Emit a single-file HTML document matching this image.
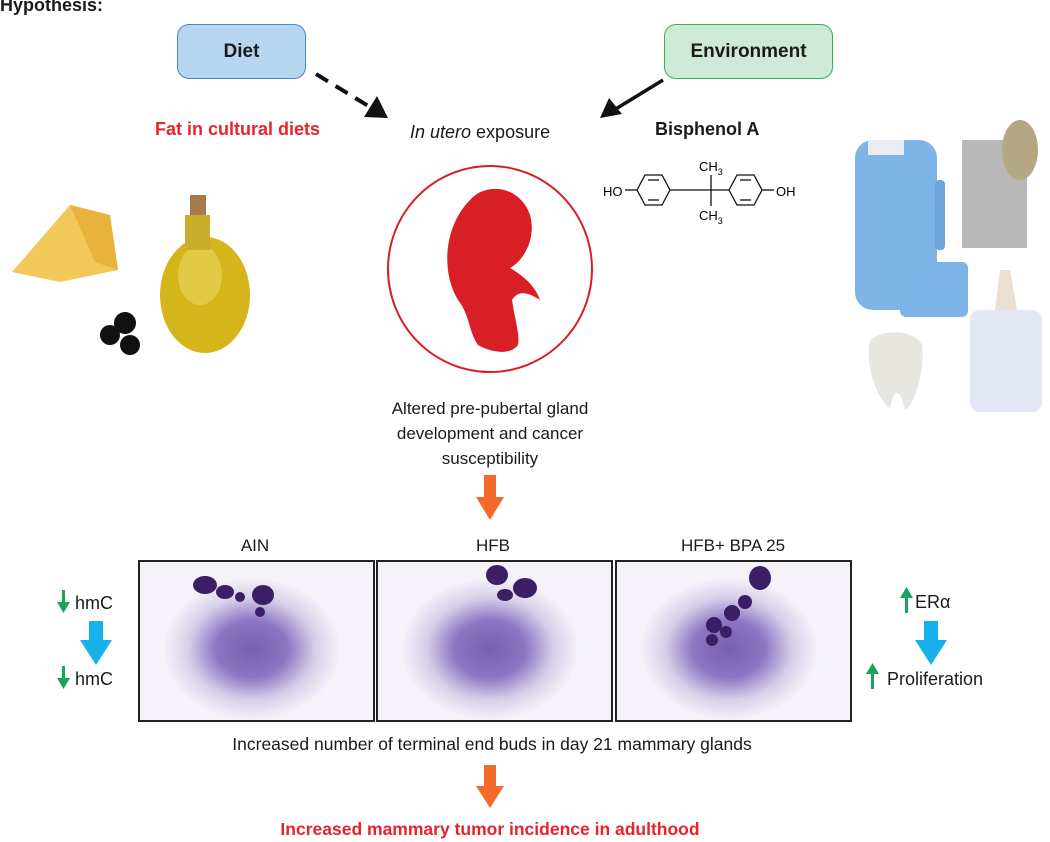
<!DOCTYPE html>
<html><head><meta charset="utf-8"><style>
body{margin:0;width:1050px;height:842px;background:#fff;position:relative;overflow:hidden;font-family:"Liberation Sans",Arial,sans-serif;color:#1a1a1a}
.t{position:absolute;white-space:nowrap}
.c{transform:translateX(-50%);text-align:center}
.box{position:absolute;border-radius:12px;display:flex;align-items:center;justify-content:center;font-weight:bold;font-size:19px}
.panel{position:absolute;top:560px;width:233px;height:158px;border:2px solid #222;background:
radial-gradient(ellipse 38% 45% at 48% 55%,#7660b2 0%,#8b76c2 40%,rgba(190,178,220,.55) 72%,rgba(245,242,250,0) 100%),#f5f2f9}
</style></head><body>
<div class="t" style="left:0;top:-5px;font-weight:bold;font-size:18px">Hypothesis:</div>
<div class="box" style="left:177px;top:24px;width:127px;height:53px;background:#b8d5f0;border:1.5px solid #4a86c8">Diet</div>
<div class="box" style="left:664px;top:24px;width:167px;height:53px;background:#cfe9d8;border:1.5px solid #2db35a">Environment</div>
<div class="panel" style="left:138px"></div>
<div class="panel" style="left:376px"></div>
<div class="panel" style="left:615px"></div>
<svg width="1050" height="842" style="position:absolute;left:0;top:0">
<line x1="316" y1="74" x2="370" y2="107" stroke="#111" stroke-width="4" stroke-dasharray="14,9"/>
<polygon points="388,118 364,117 377,96" fill="#111"/>
<line x1="663" y1="80" x2="614" y2="110" stroke="#111" stroke-width="3.5"/>
<polygon points="600,118 609,98 622,114" fill="#111"/>
<g stroke="#111" stroke-width="1.3" fill="none">
<polygon points="645,175 662,175 670,190 662,205 645,205 637,190"/>
<polygon points="737,175 754,175 762,190 754,205 737,205 729,190"/>
<line x1="648" y1="180" x2="659" y2="180"/><line x1="648" y1="200" x2="659" y2="200"/>
<line x1="740" y1="180" x2="751" y2="180"/><line x1="740" y1="200" x2="751" y2="200"/>
<line x1="625" y1="190" x2="637" y2="190"/><line x1="670" y1="190" x2="729" y2="190"/>
<line x1="711" y1="175" x2="711" y2="206"/><line x1="762" y1="190" x2="774" y2="190"/>
</g>
<text x="603" y="196" font-size="13" font-family="Liberation Sans">HO</text>
<text x="776" y="196" font-size="13" font-family="Liberation Sans">OH</text>
<text x="699" y="171" font-size="13" font-family="Liberation Sans">CH<tspan font-size="9" dy="4">3</tspan></text>
<text x="699" y="220" font-size="13" font-family="Liberation Sans">CH<tspan font-size="9" dy="4">3</tspan></text>
<ellipse cx="490" cy="269" rx="102" ry="103" fill="none" stroke="#d91f26" stroke-width="2"/>
<path d="M470,200 C485,182 520,185 530,215 C537,240 522,262 510,268 C522,275 535,285 540,300 C528,292 518,290 512,300 C515,320 520,335 518,345 C510,356 490,352 478,345 C468,330 470,315 458,300 C440,270 445,225 470,200 Z" fill="#d91f26"/>
<polygon points="12,272 70,205 110,215 118,270 60,282" fill="#f3c85a"/>
<polygon points="70,205 110,215 118,270 95,262" fill="#e9b23c"/>
<rect x="190" y="195" width="16" height="22" fill="#a57a4d"/>
<ellipse cx="205" cy="295" rx="45" ry="58" fill="#d4b51a"/>
<ellipse cx="200" cy="275" rx="22" ry="30" fill="#ecd860" opacity=".6"/>
<rect x="185" y="215" width="25" height="35" fill="#c8ae2a"/>
<circle cx="125" cy="323" r="11" fill="#111"/><circle cx="110" cy="335" r="10" fill="#111"/><circle cx="130" cy="345" r="10" fill="#111"/>
<rect x="855" y="140" width="82" height="170" rx="18" fill="#7fb5e6"/>
<rect x="868" y="140" width="36" height="15" fill="#e8eef3"/>
<rect x="935" y="180" width="10" height="70" rx="4" fill="#6ea5db"/>
<rect x="900" y="262" width="68" height="55" rx="6" fill="#7db3e6"/>
<rect x="962" y="140" width="65" height="108" fill="#b8b8b8"/>
<ellipse cx="1020" cy="150" rx="18" ry="30" fill="#b3a883"/>
<path d="M870,340 C885,328 915,330 922,345 C925,370 915,405 905,410 C900,390 895,385 890,408 C878,400 865,370 870,340Z" fill="#e8e6e0"/>
<rect x="970" y="310" width="72" height="102" rx="10" fill="#e3e6f3"/>
<path d="M995,310 L1000,270 L1010,270 L1017,310Z" fill="#eadfd0"/>
<!-- dark buds -->
<g fill="#3a1f66">
<ellipse cx="205" cy="585" rx="12" ry="9"/><ellipse cx="225" cy="592" rx="9" ry="7"/><ellipse cx="263" cy="595" rx="11" ry="10"/><circle cx="240" cy="597" r="5"/><circle cx="260" cy="612" r="5"/>
<ellipse cx="497" cy="575" rx="11" ry="10"/><ellipse cx="525" cy="588" rx="12" ry="10"/><ellipse cx="505" cy="595" rx="8" ry="6"/>
<ellipse cx="760" cy="578" rx="11" ry="12"/><circle cx="745" cy="602" r="7"/><circle cx="732" cy="613" r="8"/><circle cx="714" cy="625" r="8"/><circle cx="726" cy="632" r="6"/><circle cx="712" cy="640" r="6"/>
</g>
<polygon points="484,475 496,475 496,497 504,497 490,520 476,497 484,497" fill="#f26b2a"/>
<polygon points="484,765 496,765 496,786 504,786 490,808 476,786 484,786" fill="#f26b2a"/>
<polygon points="89,621 103,621 103,640 112,640 96,665 80,640 89,640" fill="#17b1ea"/>
<polygon points="924,621 938,621 938,640 947,640 931,665 915,640 924,640" fill="#17b1ea"/>
<g fill="#1aa35a">
<rect x="62" y="590" width="3" height="14"/><polygon points="57,602 70,602 63.5,613"/>
<rect x="62" y="666" width="3" height="14"/><polygon points="57,678 70,678 63.5,689"/>
<rect x="905" y="596" width="3" height="17"/><polygon points="900,598 913,598 906.5,587"/>
<rect x="871" y="672" width="3" height="17"/><polygon points="866,674 879,674 872.5,663"/>
</g>
</svg>
<div class="t" style="left:155px;top:119px;font-size:18px;font-weight:bold;color:#e8232a">Fat in cultural diets</div>
<div class="t" style="left:410px;top:122px;font-size:18px"><i>In utero</i> exposure</div>
<div class="t" style="left:655px;top:119px;font-size:18px;font-weight:bold">Bisphenol A</div>
<div class="t c" style="left:490px;top:396px;font-size:17px;line-height:25px">Altered pre-pubertal gland<br>development and cancer<br>susceptibility</div>
<div class="t c" style="left:255px;top:536px;font-size:17px">AIN</div>
<div class="t c" style="left:493px;top:536px;font-size:17px">HFB</div>
<div class="t c" style="left:733px;top:536px;font-size:17px">HFB+ BPA 25</div>
<div class="t" style="left:75px;top:593px;font-size:18px">hmC</div>
<div class="t" style="left:75px;top:669px;font-size:18px">hmC</div>
<div class="t" style="left:915px;top:592px;font-size:18px">ERα</div>
<div class="t" style="left:887px;top:669px;font-size:18px">Proliferation</div>
<div class="t c" style="left:492px;top:734px;font-size:17.5px">Increased number of terminal end buds in day 21 mammary glands</div>
<div class="t c" style="left:490px;top:819px;font-size:17.5px;font-weight:bold;color:#e8232a">Increased mammary tumor incidence in adulthood</div>
</body></html>
